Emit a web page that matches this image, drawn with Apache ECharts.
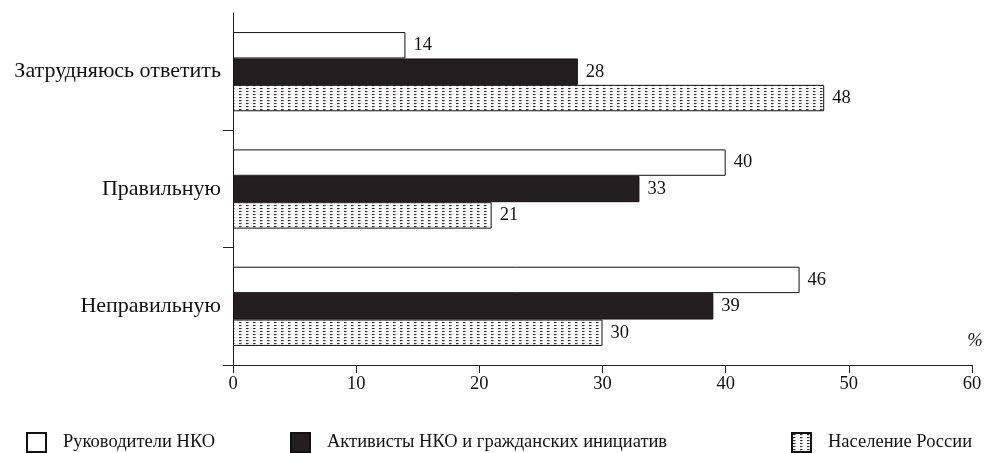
<!DOCTYPE html>
<html>
<head>
<meta charset="utf-8">
<script src="https://cdn.jsdelivr.net/npm/echarts@6/dist/echarts.min.js"></script>
<style>
  html, body { margin: 0; padding: 0; background: #fff; }
  #chart { width: 1006px; height: 453px; }
</style>
</head>
<body>
<div id="chart"></div>
<script>
// Answer options, top to bottom
const categories = ['Затрудняюсь ответить', 'Правильную', 'Неправильную'];

// Shares of respondents, %
const leadersNKO = [14, 40, 46];
const activistsNKO = [28, 33, 39];
const populationRussia = [48, 21, 30];

const seriesNames = ['Руководители НКО', 'Активисты НКО и гражданских инициатив', 'Население России'];
const xTicks = { min: 0, max: 60, step: 10 };

// Fine dotted hatch used for the third group
function makeDotPattern() {
  const c = document.createElement('canvas');
  c.width = 7;
  c.height = 3;
  const ctx = c.getContext('2d');
  ctx.fillStyle = '#ffffff';
  ctx.fillRect(0, 0, 7, 3);
  ctx.fillStyle = '#333333';
  ctx.fillRect(1, 1, 2, 1);
  ctx.fillStyle = '#8a8a8a';
  ctx.fillRect(3, 1, 1, 1);
  ctx.fillStyle = '#e0e0e0';
  ctx.fillRect(1, 2, 2, 1);
  return c;
}

const FONT = '"Liberation Serif", "DejaVu Serif", serif';
const chart = echarts.init(document.getElementById('chart'), null, { renderer: 'canvas' });

const labelStyle = {
  show: true,
  position: 'right',
  distance: 8,
  color: '#111',
  fontFamily: FONT,
  fontSize: 18.5
};

function barSeries(name, data, itemStyle) {
  return {
    name: name,
    type: 'bar',
    data: data,
    barWidth: 26.4,
    barGap: '0%',
    itemStyle: Object.assign({ borderColor: '#111', borderWidth: 1 }, itemStyle),
    label: labelStyle,
    emphasis: { disabled: true },
    animation: false
  };
}

const pattern = { image: makeDotPattern(), repeat: 'repeat' };

function legendFor(name, left) {
  return {
    data: [{ name: name, icon: 'rect' }],
    left: left,
    top: 432,
    padding: 0,
    itemWidth: 19,
    itemHeight: 19,
    selectedMode: false,
    textStyle: {
      fontFamily: FONT,
      fontSize: 18.5,
      color: '#111',
      padding: [0, 0, 0, 12]
    }
  };
}

chart.setOption({
  backgroundColor: '#ffffff',
  animation: false,
  grid: { left: 233, right: 34, top: 13, bottom: 88, containLabel: false },
  legend: [
    legendFor(seriesNames[0], 26),
    legendFor(seriesNames[1], 290),
    legendFor(seriesNames[2], 791)
  ],
  xAxis: {
    type: 'value',
    min: xTicks.min,
    max: xTicks.max,
    interval: xTicks.step,
    name: '%',
    nameLocation: 'end',
    nameGap: 3,
    nameTextStyle: {
      fontFamily: FONT,
      fontSize: 18.5,
      fontStyle: 'italic',
      color: '#111',
      align: 'center',
      verticalAlign: 'bottom',
      padding: [0, 0, 14, 0]
    },
    axisLine: { show: true, lineStyle: { color: '#222', width: 1 } },
    axisTick: { show: true, length: 8, lineStyle: { color: '#222' } },
    axisLabel: { fontFamily: FONT, fontSize: 18.5, color: '#111', margin: 10 },
    splitLine: { show: false }
  },
  yAxis: {
    type: 'category',
    data: categories,
    inverse: true,
    axisLine: { show: true, lineStyle: { color: '#222', width: 1 } },
    axisTick: {
      show: true,
      length: 10,
      lineStyle: { color: '#222' },
      interval: function (idx) { return idx !== 0; }
    },
    axisLabel: { fontFamily: FONT, fontSize: 22, color: '#111', margin: 12 },
    splitLine: { show: false }
  },
  series: [
    barSeries(seriesNames[0], leadersNKO, { color: '#ffffff' }),
    barSeries(seriesNames[1], activistsNKO, { color: '#231f20' }),
    barSeries(seriesNames[2], populationRussia, { color: pattern })
  ]
});
</script>
</body>
</html>
